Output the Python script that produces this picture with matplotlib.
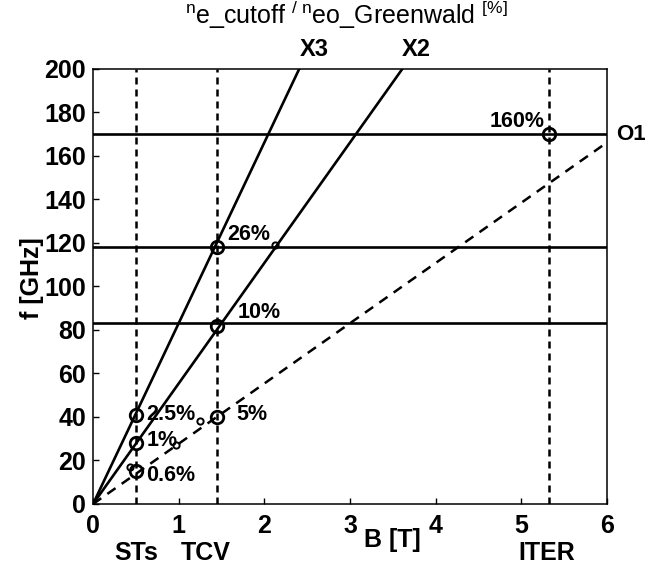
import numpy as np
import matplotlib
matplotlib.use("Agg")
import matplotlib.pyplot as plt

plt.rcParams['font.family'] = ['Liberation Sans', 'DejaVu Sans']
plt.rcParams['mathtext.fontset'] = 'custom'
plt.rcParams['mathtext.rm'] = 'Liberation Sans'
plt.rcParams['mathtext.it'] = 'Liberation Sans'
plt.rcParams['mathtext.bf'] = 'Liberation Sans:bold'

# cyclotron harmonics, GHz per tesla
f_ce = 27.7
harmonics = ["O1", "X2", "X3"]
harmonic_n = [1, 2, 3]

# machines and their fields
machines = ["STs", "TCV", "ITER"]
machine_B = [0.5, 1.45, 5.32]
machine_lab_B = [0.51, 1.31, 5.3]

# cutoff frequencies drawn as horizontal lines
cutoff_f = [83, 118, 170]

# density ratio points
pt_B = [0.5, 0.5, 0.5, 1.45, 1.45, 1.45, 5.32]
pt_f = [41, 28, 15, 40, 82, 118, 170]
pt_lab = ["2.5%", "1%", "0.6%", "5%", "10%", "26%", "160%"]
small_B = [1.25, 0.97, 2.13, 0.43]
small_f = [38, 27, 119, 17]

fig = plt.figure(figsize=(6.51, 5.64), dpi=100)
ax = fig.add_axes([0.1429, 0.1064, 0.7895, 0.7713])

B = np.array([0, 6.0])
for name, n in zip(harmonics, harmonic_n):
    if name == "O1":
        ax.plot(B, n * f_ce * B, color='k', lw=1.8, ls='--', dashes=(4, 3))
    else:
        ax.plot(B, n * f_ce * B, color='k', lw=1.9)

for f in cutoff_f:
    ax.axhline(f, color='k', lw=1.9)

for b in machine_B:
    ax.axvline(b, color='k', lw=1.8, ls='--', dashes=(2.8, 2))

ax.plot(pt_B, pt_f, 'o', ms=9, mfc='none', mec='k', mew=2)
ax.plot(small_B, small_f, 'o', ms=4.5, mfc='none', mec='k', mew=1.4)

# label offsets (dB, df) and alignment for each point
offs = {"2.5%": (0.12, 0, 'left'), "1%": (0.12, 1, 'left'), "0.6%": (0.12, -2, 'left'),
        "5%": (0.22, 1, 'left'), "10%": (0.24, 6, 'left'), "26%": (0.12, 6, 'left'),
        "160%": (-0.05, 6, 'right')}
for b, f, lab in zip(pt_B, pt_f, pt_lab):
    dx, dy, ha = offs[lab]
    ax.text(b + dx, f + dy, lab, fontsize=15.5, fontweight='bold', va='center', ha=ha)

# harmonic names at the line ends
ax.text(2.58, 209, "X3", fontsize=17, fontweight='bold', ha='center', va='center', clip_on=False)
ax.text(3.77, 209, "X2", fontsize=17, fontweight='bold', ha='center', va='center', clip_on=False)
ax.text(6.11, 170, "O1", fontsize=16, fontweight='bold', ha='left', va='center', clip_on=False)

ax.set_xlim(0, 6)
ax.set_ylim(0, 200)
ax.set_xticks(range(0, 7))
ax.set_yticks(range(0, 201, 20))
ax.tick_params(direction='in', length=4, labelsize=18, width=1)
ax.tick_params(axis='x', pad=7)
ax.tick_params(axis='y', pad=5)
for lab in ax.get_xticklabels() + ax.get_yticklabels():
    lab.set_fontweight('bold')
for s in ax.spines.values():
    s.set_linewidth(1.1)

ax.set_ylabel("f [GHz]", fontsize=18, fontweight='bold')
ax.yaxis.set_label_coords(-0.095, 0.52)
ax.text(3.5, -16.5, "B [T]", fontsize=18, fontweight='bold', ha='center', va='center', clip_on=False)
for name, b in zip(machines, machine_lab_B):
    ax.text(b, -22.5, name, fontsize=18, fontweight='bold', ha='center', va='center', clip_on=False)

fig.text(0.532, 0.957,
         r"${}^{\mathrm{n}}\mathrm{e\_cutoff}\ {}^{/\ \mathrm{n}}\mathrm{eo\_Greenwald}\ {}^{[\%]}$",
         fontsize=18, ha='center', va='baseline')

fig.savefig("out.png", dpi=100)
